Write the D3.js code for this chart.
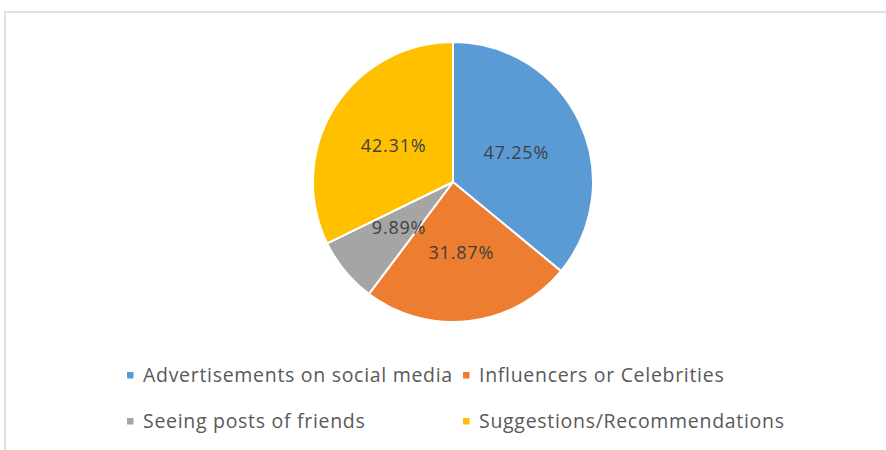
<!DOCTYPE html>
<html>
<head>
<meta charset="utf-8">
<script src="https://cdn.jsdelivr.net/npm/d3@7"></script>
<style>
  html, body { margin: 0; padding: 0; background: #ffffff; }
  svg { display: block; }
</style>
</head>
<body>
<svg id="chart" width="886" height="450"></svg>
<script>
// Where people discover products
const categories = [
  "Advertisements on social media",
  "Influencers or Celebrities",
  "Seeing posts of friends",
  "Suggestions/Recommendations"
];
const values = [47.25, 31.87, 9.89, 42.31];
const valueLabels = ["47.25%", "31.87%", "9.89%", "42.31%"];
const colors = ["#5b9bd5", "#ed7d31", "#a5a5a5", "#ffc000"];

const svg = d3.select("#chart");
const W = 886, H = 450;

// chart area frame
svg.append("rect")
  .attr("x", 5).attr("y", 12)
  .attr("width", W + 10).attr("height", H + 10)
  .attr("fill", "#ffffff")
  .attr("stroke", "#e2e2e2")
  .attr("stroke-width", 2);

const cx = 453, cy = 182, R = 140;

const data = categories.map((c, i) => ({ cat: c, value: values[i], label: valueLabels[i], color: colors[i] }));

const pie = d3.pie().value(d => d.value).sort(null);
const arc = d3.arc().innerRadius(0).outerRadius(R);

const g = svg.append("g").attr("transform", `translate(${cx},${cy})`);
const arcs = pie(data);

g.selectAll("path.slice")
  .data(arcs)
  .join("path")
  .attr("class", "slice")
  .attr("d", arc)
  .attr("fill", d => d.data.color)
  .attr("stroke", "#ffffff")
  .attr("stroke-width", 2)
  .attr("stroke-linejoin", "round");

g.selectAll("text.vlabel")
  .data(arcs)
  .join("text")
  .attr("class", "vlabel")
  .attr("transform", d => `translate(${arc.centroid(d)})`)
  .attr("text-anchor", "middle")
  .attr("dominant-baseline", "central")
  .attr("font-family", "'Open Sans', sans-serif")
  .attr("font-size", 18)
  .attr("letter-spacing", 0.8)
  .attr("fill", "#404040")
  .text(d => d.data.label);

// legend: two rows, two columns
const legendCols = [127, 463];
const legendRows = [374, 420];
const lg = svg.append("g");
data.forEach((d, i) => {
  const x = legendCols[i % 2], y = legendRows[Math.floor(i / 2)];
  lg.append("rect")
    .attr("x", x).attr("y", y - 2)
    .attr("width", 6.5).attr("height", 6.5)
    .attr("fill", d.color);
  lg.append("text")
    .attr("x", x + 16).attr("y", y)
    .attr("dominant-baseline", "central")
    .attr("font-family", "'Open Sans', sans-serif")
    .attr("font-size", 19.5)
    .attr("letter-spacing", 0.7)
    .attr("fill", "#595959")
    .text(d.cat);
});
</script>
</body>
</html>
